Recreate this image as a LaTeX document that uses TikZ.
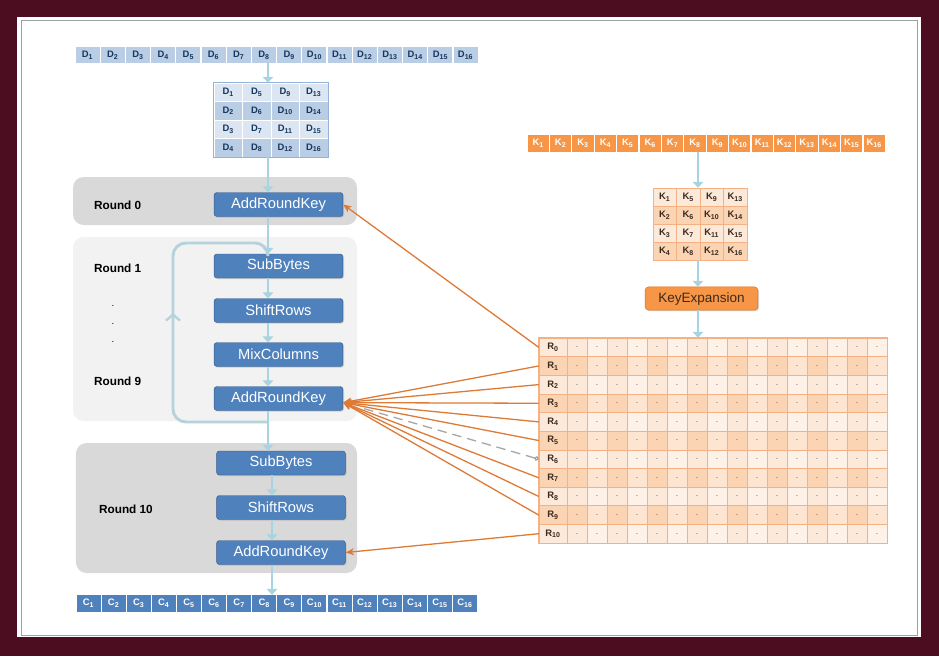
\documentclass[tikz,border=0pt]{standalone}
\usepackage{fontspec}
\setmainfont{Liberation Sans}
\usetikzlibrary{arrows.meta,decorations.markings,shadows}
\definecolor{framecol}{HTML}{4D0D20}
\definecolor{paneledge}{HTML}{A0A0A0}
\definecolor{dlight}{HTML}{B9CDE5}
\definecolor{dpale}{HTML}{DCE6F2}
\definecolor{dedge}{HTML}{95B3D7}
\definecolor{dtext}{HTML}{17375E}
\definecolor{boxblue}{HTML}{4F81BD}
\definecolor{boxedge}{HTML}{385D8A}
\definecolor{greydark}{HTML}{D9D9D9}
\definecolor{greylight}{HTML}{F2F2F2}
\definecolor{flowcol}{HTML}{A8D3E0}
\definecolor{loopcol}{HTML}{B5D3DC}
\definecolor{korange}{HTML}{F79646}
\definecolor{kedge}{HTML}{E46C0A}
\definecolor{kpale}{HTML}{FDE9D9}
\definecolor{kmid}{HTML}{FBD4B4}
\definecolor{kgrid}{HTML}{F4B183}
\definecolor{keycol}{HTML}{DD7A35}
\definecolor{ktext}{HTML}{3B2A1E}

\begin{document}
\begin{tikzpicture}[x=0.85pt,y=-0.85pt,
  cellfont/.style={font=\fontsize{8}{9}\selectfont\bfseries},
  dcell/.style={cellfont,fill=dlight,text=dtext,minimum width=20.4pt,minimum height=13.6pt,inner sep=0pt},
  ccell/.style={cellfont,fill=boxblue,text=white,minimum width=20.4pt,minimum height=14.4pt,inner sep=0pt},
  mcell/.style={cellfont,draw=white,line width=0.6pt,text=dtext,minimum width=24.2pt,minimum height=15.7pt,inner sep=0pt},
  kcell/.style={cellfont,fill=korange,text=white,minimum width=17.9pt,minimum height=14.4pt,inner sep=0pt},
  kmcell/.style={cellfont,draw=kgrid,line width=0.5pt,text=ktext,minimum width=20pt,minimum height=15.3pt,inner sep=0pt},
  rlab/.style={cellfont,draw=kgrid,line width=0.5pt,text=ktext,minimum width=23.8pt,minimum height=15.84pt,inner sep=0pt},
  rcell/.style={font=\fontsize{7}{7}\selectfont,draw=kgrid,line width=0.5pt,text=ktext!80,minimum width=17pt,minimum height=15.84pt,inner sep=0pt},
  roundbg/.style={rounded corners=9pt,inner sep=0pt},
  block/.style={fill=boxblue,draw=boxedge,rounded corners=2.5pt,minimum width=109.6pt,minimum height=20.4pt,inner sep=0pt,
    text=white,font=\fontsize{12.5}{14}\selectfont,drop shadow={opacity=0.3,shadow xshift=1pt,shadow yshift=-1pt}},
  roundlab/.style={anchor=west,font=\fontsize{10}{12}\selectfont\bfseries},
  flow/.style={draw=flowcol,line width=2.4pt,-{Triangle[length=5pt,width=9pt]}},
  keyarrow/.style={draw=keycol,line width=1.1pt,-{Stealth[length=7pt,width=6pt,inset=2pt]}},
  keydash/.style={draw=black!35,line width=1.1pt,dash pattern=on 8pt off 5pt,{Circle[open,length=4pt,width=4pt]}-,shorten >=18pt},
  loopline/.style={draw=loopcol,line width=2.5pt,rounded corners=11pt,
    postaction={decorate,decoration={markings,mark=at position 0.54 with {\arrow[loopcol,line width=2pt]{Straight Barb[length=5pt,width=12pt]}}}}}]
\useasboundingbox (0,0) rectangle (939,656);
% frame and panel
\fill[framecol] (0,0) rectangle (939,656);
\fill[white] (17,17) rectangle (921,637);
\draw[paneledge,line width=0.8pt] (21,20) rectangle (917,635);
\coordinate (spine) at (268,0);
\coordinate (spine10) at (272,0);
\coordinate (kspine) at (698,0);

% round backgrounds
\node[roundbg,fill=greydark,minimum width=241.4pt,minimum height=40.8pt] (rnd0) at (215,201) {};
\node[roundbg,fill=greylight,minimum width=241.4pt,minimum height=156.4pt] (rnd19) at (215,329) {};
\node[roundbg,fill=greydark,minimum width=238.9pt,minimum height=110.5pt] (rnd10) at (216.5,508) {};
\node[roundlab] (lab0) at (90,205) {Round 0};
\node[roundlab] (lab1) at (90,268) {Round 1};
\foreach \y [count=\i] in {306,324,342}
  \node[font=\fontsize{8}{8}\selectfont] (dot\i) at (113,\y) {.};
\node[roundlab] (lab9) at (90,381) {Round 9};
\node[roundlab] (lab10) at (95,509) {Round 10};

% plaintext bytes
\foreach \i in {1,...,16}
  \node[dcell] (d\i) at ({75+25.2*(\i-0.5)},55) {D\textsubscript{\i}};
\foreach \r in {1,...,4}
  \foreach \c in {1,...,4}{
    \pgfmathtruncatemacro\n{4*(\c-1)+\r}
    \ifodd\r\def\mfill{dpale}\else\def\mfill{dlight}\fi
    \node[mcell,fill=\mfill] (dm\r\c) at ({214+28.5*(\c-0.5)},{83+18.5*(\r-0.5)}) {D\textsubscript{\n}};
  }
\draw[dedge,line width=0.8pt] (dm11.north west) rectangle (dm44.south east);

% round blocks
\node[block] (ark0) at (278.5,204.5) {AddRoundKey};
\node[block] (sb9) at (278.5,266) {SubBytes};
\node[block] (sr9) at (278.5,310.5) {ShiftRows};
\node[block] (mc9) at (278.5,354.5) {MixColumns};
\node[block] (ark9) at (278.5,398.5) {AddRoundKey};
\node[block] (sb10) at (281,463) {SubBytes};
\node[block] (sr10) at (281,507.5) {ShiftRows};
\node[block] (ark10) at (281,552.5) {AddRoundKey};

% loop of rounds 1 to 9
\draw[loopline] (268,422) -- (173,422) -- (173,243) -- (268,243) -- (268,254);

% data flow
\draw[flow] (d8.south -| spine) -- (dm11.north -| spine);
\draw[flow] (dm41.south -| spine) -- (ark0.north -| spine);
\draw[flow] (ark0.south -| spine) -- (sb9.north -| spine);
\draw[flow] (sb9.south -| spine) -- (sr9.north -| spine);
\draw[flow] (sr9.south -| spine) -- (mc9.north -| spine);
\draw[flow] (mc9.south -| spine) -- (ark9.north -| spine);
\draw[flow] (ark9.south -| spine) -- (sb10.north -| spine);
\draw[flow] (sb10.south -| spine10) -- (sr10.north -| spine10);
\draw[flow] (sr10.south -| spine10) -- (ark10.north -| spine10);

% ciphertext bytes
\foreach \i in {1,...,16}
  \node[ccell] (c\i) at ({76+25.1*(\i-0.5)},603.5) {C\textsubscript{\i}};
\draw[flow] (ark10.south -| spine10) -- (c8.north -| spine10);

% key bytes
\foreach \i in {1,...,16}
  \node[kcell] (k\i) at ({527+22.4*(\i-0.5)},143.5) {K\textsubscript{\i}};
\foreach \r in {1,...,4}
  \foreach \c in {1,...,4}{
    \pgfmathtruncatemacro\n{4*(\c-1)+\r}
    \ifodd\r\def\mfill{kpale}\else\def\mfill{kmid}\fi
    \node[kmcell,fill=\mfill] (km\r\c) at ({653+23.5*(\c-0.5)},{188+18*(\r-0.5)}) {K\textsubscript{\n}};
  }
\node[fill=korange,draw=kedge,rounded corners=3pt,minimum width=96pt,minimum height=19.6pt,inner sep=0pt,
  text=ktext,font=\fontsize{11.5}{13}\selectfont,drop shadow={opacity=0.3,shadow xshift=1pt,shadow yshift=-1pt}]
  (kexp) at (701.5,298.5) {KeyExpansion};

% round keys
\foreach \r in {0,...,10}{
  \ifodd\r\def\rfill{kmid}\else\def\rfill{kpale}\fi
  \node[rlab,fill=\rfill] (rk\r) at (553,{338+18.64*(\r+0.5)}) {R\textsubscript{\r}};
  \foreach \c in {1,...,16}{
    \ifodd\c\def\cfill{\rfill}\else\def\cfill{\rfill!60!white}\fi
    \node[rcell,fill=\cfill] (rc\r-\c) at ({557+20*\c},{338+18.64*(\r+0.5)}) {.};
  }
}
\draw[kgrid,line width=0.8pt] (rk0.north west) rectangle (rc10-16.south east);

\draw[flow] (k8.south -| kspine) -- (km11.north -| kspine);
\draw[flow] (km41.south -| kspine) -- (kexp.north -| kspine);
\draw[flow] (kexp.south -| kspine) -- (rc0-8.north -| kspine);

% key schedule to rounds
\draw[keyarrow] (rk0.west) -- (ark0.east);
\foreach \r in {1,2,3,4,5,7,8,9}
  \draw[keyarrow] (rk\r.west) -- ([yshift=-3.5pt]ark9.east);
\draw[keydash] (rk6.west) -- ([yshift=-3.5pt]ark9.east);
\draw[keyarrow] (rk10.west) -- (ark10.east);
\end{tikzpicture}
\end{document}
